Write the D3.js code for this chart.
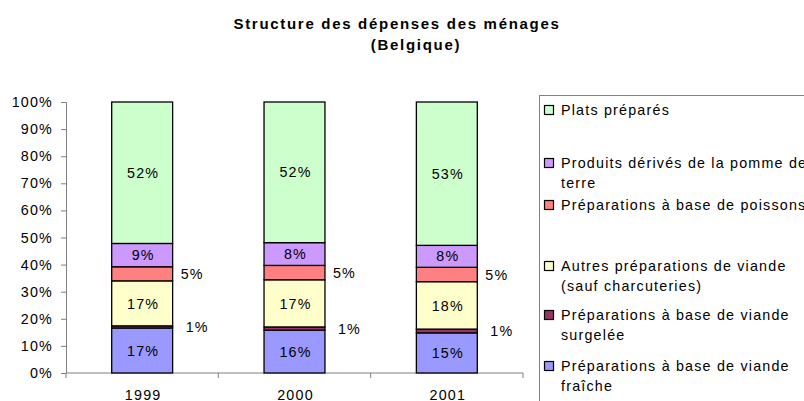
<!DOCTYPE html>
<html>
<head>
<meta charset="utf-8">
<script src="https://cdn.jsdelivr.net/npm/d3@7"></script>
<style>
  html, body { margin: 0; padding: 0; background: #fff; }
  svg { display: block; font-family: "Liberation Sans", Arial, Helvetica, sans-serif; }
  svg text { letter-spacing: 1.2px; }
</style>
</head>
<body>
<div id="chart"></div>
<script>
// ---------- data ----------
const years = ["1999", "2000", "2001"];
const viandeFraiche   = [16.6, 15.8, 14.8];
const viandeSurgelee  = [0.8, 1.2, 1.4];
const autresViande    = [16.6, 17.4, 17.5];
const poissons        = [5.2, 5.3, 5.3];
const pommeDeTerre    = [8.6, 8.4, 8.1];
const platsPrepares   = [52.2, 51.9, 52.9];
const yTicks = [0, 10, 20, 30, 40, 50, 60, 70, 80, 90, 100];

// stacking order, bottom to top
const series = [
  { key: "fraiche",  name: ["Préparations à base de viande", "fraîche"], values: viandeFraiche,  color: "#9999ff" },
  { key: "surgelee", name: ["Préparations à base de viande", "surgelée"], values: viandeSurgelee, color: "#993366" },
  { key: "autres",   name: ["Autres préparations de viande", "(sauf charcuteries)"], values: autresViande, color: "#ffffcc" },
  { key: "poissons", name: ["Préparations à base de poissons"], values: poissons, color: "#ff8080" },
  { key: "pdt",      name: ["Produits dérivés de la pomme de", "terre"], values: pommeDeTerre, color: "#cc99ff" },
  { key: "plats",    name: ["Plats préparés"], values: platsPrepares, color: "#ccffcc" }
];

// ---------- layout ----------
const W = 804, H = 401;
const plot = { left: 66, right: 523, top: 102, bottom: 373 };
const legendBox = { x: 539.5, y: 95.5 };
// first-line y of each legend entry, top to bottom
const legendRows = [110, 163, 205, 266, 315, 366];
const fs = "14.3px";

const svg = d3.select("#chart").append("svg").attr("width", W).attr("height", H);

// title
[["Structure des dépenses des ménages", 397, 29], ["(Belgique)", 416, 50]].forEach(([t, tx, ty]) => {
  svg.append("text")
    .attr("x", tx).attr("y", ty)
    .attr("text-anchor", "middle")
    .style("font-weight", "bold").style("font-size", "15px").style("letter-spacing", "1.7px")
    .text(t);
});

const x = d3.scaleBand().domain(years).range([plot.left, plot.right]).paddingInner(0.6).paddingOuter(0.3);
const y = d3.scaleLinear().domain([0, 100]).range([plot.bottom, plot.top]);

// stack
const rows = years.map((yr, i) => {
  const r = { year: yr };
  series.forEach(s => { r[s.key] = s.values[i]; });
  return r;
});
const stacked = d3.stack().keys(series.map(s => s.key))(rows);

// y axis
const yAxis = svg.append("g")
  .attr("transform", `translate(${plot.left},0)`)
  .call(d3.axisLeft(y).tickValues(yTicks).tickSize(5).tickPadding(8).tickFormat(d => d + "%"));
yAxis.select(".domain").attr("stroke", "#808080");
yAxis.selectAll(".tick line").attr("stroke", "#808080");
yAxis.selectAll(".tick text").attr("fill", "#000").style("font-size", fs).style("font-family", "inherit");

// x axis (ticks between categories)
const xAxis = svg.append("g").attr("transform", `translate(0,${plot.bottom})`);
xAxis.append("line").attr("x1", plot.left).attr("x2", plot.right).attr("stroke", "#808080");
const step = x.step();
d3.range(years.length + 1).forEach(i => {
  const tx = plot.left + i * step;
  xAxis.append("line").attr("x1", tx).attr("x2", tx).attr("y1", 0).attr("y2", 5).attr("stroke", "#808080");
});
xAxis.selectAll("text.cat").data(years).enter().append("text")
  .attr("class", "cat")
  .attr("x", d => x(d) + x.bandwidth() / 2 + 1)
  .attr("y", 26.5)
  .attr("text-anchor", "middle")
  .style("font-size", fs)
  .text(d => d);

// bars
stacked.forEach((layer, li) => {
  const s = series[li];
  svg.append("g").selectAll("rect").data(layer).enter().append("rect")
    .attr("x", d => x(d.data.year))
    .attr("y", d => y(d[1]))
    .attr("width", x.bandwidth())
    .attr("height", d => y(d[0]) - y(d[1]))
    .attr("fill", s.color)
    .attr("stroke", "#000")
    .attr("stroke-width", 1.3);
});

// value labels
stacked.forEach(layer => {
  layer.forEach(d => {
    const v = d[1] - d[0];
    const cy = (y(d[0]) + y(d[1])) / 2;
    const inside = v >= 7;
    const off = Math.round(v) <= 1 ? 13 : 8;
    svg.append("text")
      .attr("x", inside ? x(d.data.year) + x.bandwidth() / 2 + 1 : x(d.data.year) + x.bandwidth() + off)
      .attr("y", cy)
      .attr("dy", "0.36em")
      .attr("text-anchor", inside ? "middle" : "start")
      .style("font-size", fs)
      .text(Math.round(v) + "%");
  });
});

// legend
svg.append("rect")
  .attr("x", legendBox.x).attr("y", legendBox.y)
  .attr("width", 400).attr("height", 400)
  .attr("fill", "none").attr("stroke", "#808080");

const legendItems = series.slice().reverse();
legendItems.forEach((s, i) => {
  const ly = legendRows[i];
  const g = svg.append("g");
  g.append("rect")
    .attr("x", 544.5).attr("y", ly - 4.5)
    .attr("width", 9).attr("height", 9)
    .attr("fill", s.color).attr("stroke", "#000").attr("stroke-width", 1.2);
  s.name.forEach((line, k) => {
    g.append("text")
      .attr("x", 561).attr("y", ly + k * 20)
      .attr("dy", "0.36em")
      .style("font-size", fs)
      .text(line);
  });
});
</script>
</body>
</html>
